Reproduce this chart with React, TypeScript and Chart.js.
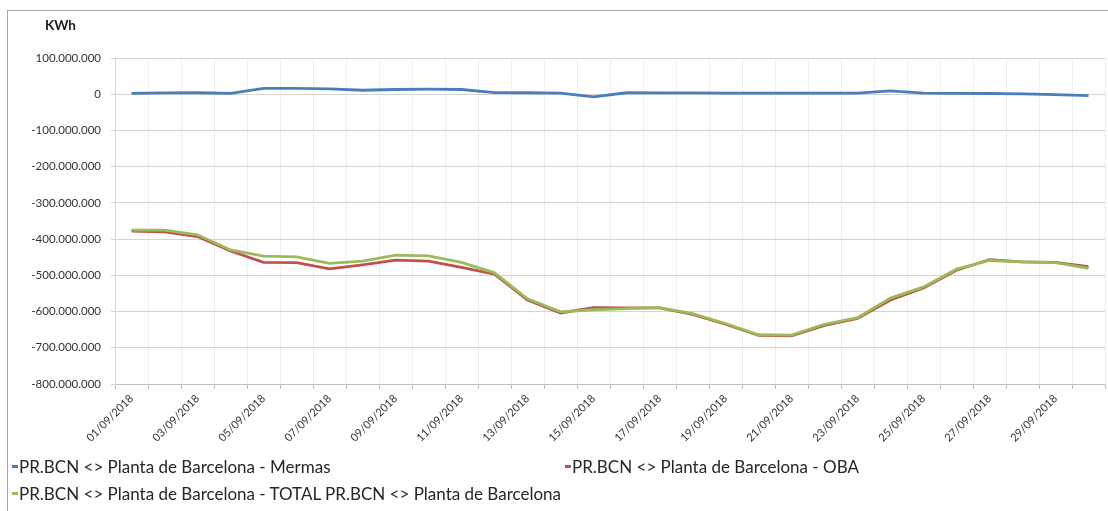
import React, { useEffect, useRef } from "react";
import { Chart, registerables } from "chart.js";

Chart.register(...registerables);

const categories = [
  "01/09/2018", "02/09/2018", "03/09/2018", "04/09/2018", "05/09/2018",
  "06/09/2018", "07/09/2018", "08/09/2018", "09/09/2018", "10/09/2018",
  "11/09/2018", "12/09/2018", "13/09/2018", "14/09/2018", "15/09/2018",
  "16/09/2018", "17/09/2018", "18/09/2018", "19/09/2018", "20/09/2018",
  "21/09/2018", "22/09/2018", "23/09/2018", "24/09/2018", "25/09/2018",
  "26/09/2018", "27/09/2018", "28/09/2018", "29/09/2018", "30/09/2018",
];

const seriesNames = [
  "PR.BCN <> Planta de Barcelona - Mermas",
  "PR.BCN <> Planta de Barcelona - OBA",
  "PR.BCN <> Planta de Barcelona - TOTAL PR.BCN <> Planta de Barcelona",
];

const seriesColors = ["#4a7ebb", "#c0504d", "#9bbb59"];

const mermas = [
  2500000, 3500000, 4000000, 2500000, 16000000, 16000000, 15000000, 11000000,
  13000000, 14000000, 13000000, 4500000, 4000000, 3000000, -7500000, 4000000,
  3500000, 3500000, 3000000, 3000000, 3000000, 3000000, 3000000, 9000000,
  3000000, 2500000, 2000000, 1000000, -1000000, -4000000,
];

const oba = [
  -378000000, -380000000, -393000000, -433000000, -464000000, -465000000,
  -482000000, -471000000, -458000000, -461000000, -478000000, -497000000,
  -568000000, -604000000, -589000000, -590000000, -590000000, -608000000,
  -635000000, -666000000, -667000000, -638000000, -619000000, -568000000,
  -535000000, -486000000, -457000000, -463000000, -464000000, -476000000,
];

const total = [
  -375000000, -375000000, -388000000, -430000000, -447000000, -449000000,
  -467000000, -461000000, -444000000, -446000000, -464000000, -493000000,
  -565000000, -601000000, -595000000, -592000000, -589000000, -606000000,
  -633000000, -664000000, -665000000, -635000000, -617000000, -563000000,
  -532000000, -483000000, -459000000, -463000000, -465000000, -481000000,
];

const yMin = -800000000;
const yMax = 100000000;
const yStep = 100000000;

function fmt(v: number): string {
  const s = String(Math.abs(Math.round(v))).replace(/\B(?=(\d{3})+(?!\d))/g, ".");
  return (v < 0 ? "-" : "") + s;
}

const FONT = "Lato, 'Open Sans', sans-serif";

export default function App() {
  const ref = useRef<HTMLCanvasElement | null>(null);

  useEffect(() => {
    if (!ref.current) return;
    const chart = new Chart(ref.current, {
      type: "line",
      data: {
        labels: categories,
        datasets: [
          { label: seriesNames[0], data: mermas, borderColor: seriesColors[0], backgroundColor: seriesColors[0], order: 2 },
          { label: seriesNames[1], data: oba, borderColor: seriesColors[1], backgroundColor: seriesColors[1], order: 1 },
          { label: seriesNames[2], data: total, borderColor: seriesColors[2], backgroundColor: seriesColors[2], order: 0 },
        ].map((d) => ({ ...d, borderWidth: 2.8, pointRadius: 0, tension: 0, fill: false })),
      },
      options: {
        animation: false,
        responsive: false,
        maintainAspectRatio: false,
        layout: { padding: { left: 0, top: 58, right: 3, bottom: 0 } },
        plugins: {
          legend: { display: false },
          tooltip: { enabled: false },
          title: { display: false },
        },
        scales: {
          x: {
            type: "category",
            offset: true,
            afterFit: (s: any) => {
              s.height = 127;
            },
            grid: {
              offset: true,
              color: "#eeeeee",
              lineWidth: 1,
              tickColor: "#bfbfbf",
              tickLength: 5,
              drawTicks: true,
            },
            border: { color: "#bfbfbf", width: 1 },
            ticks: {
              autoSkip: false,
              maxRotation: 45,
              minRotation: 45,
              padding: 3,
              color: "#333333",
              font: { family: FONT, size: 11 },
              callback: (_v: any, i: number) => (i % 2 === 0 ? categories[i] : ""),
            },
          },
          y: {
            min: yMin,
            max: yMax,
            afterFit: (s: any) => {
              s.width = 115;
            },
            grid: {
              color: "#d4d4d4",
              lineWidth: 1,
              tickColor: "#d4d4d4",
              tickLength: 4,
            },
            border: { color: "#d9d9d9", width: 1 },
            ticks: {
              stepSize: yStep,
              padding: 10,
              color: "#333333",
              font: { family: FONT, size: 11.5 },
              callback: (v: any) => fmt(Number(v)),
            },
          },
        },
      },
    });
    return () => chart.destroy();
  }, []);

  const legendItem = (i: number, left: number, top: number) => (
    <div
      key={i}
      style={{
        position: "absolute",
        left,
        top,
        height: 20,
        display: "flex",
        alignItems: "center",
        fontFamily: FONT,
        fontSize: 17,
        color: "#262626",
        whiteSpace: "nowrap",
      }}
    >
      <span
        style={{
          display: "inline-block",
          width: 6,
          height: 3,
          background: seriesColors[i],
          marginRight: 1,
        }}
      />
      <span>{seriesNames[i]}</span>
    </div>
  );

  return (
    <div
      style={{
        position: "fixed",
        left: 0,
        top: 0,
        width: 1108,
        height: 511,
        background: "#ffffff",
        overflow: "hidden",
      }}
    >
      <div
        style={{
          position: "absolute",
          left: 7,
          top: 10,
          width: 1200,
          height: 600,
          borderLeft: "1px solid #a6a6a6",
          borderTop: "1px solid #a6a6a6",
        }}
      />
      <canvas ref={ref} width={1108} height={511} style={{ position: "absolute", left: 0, top: 0 }} />
      <div
        style={{
          position: "absolute",
          left: 45,
          top: 17,
          fontFamily: FONT,
          fontWeight: 700,
          fontSize: 13.5,
          color: "#1a1a1a",
        }}
      >
        KWh
      </div>
      {legendItem(0, 12, 456)}
      {legendItem(1, 565, 456)}
      {legendItem(2, 12, 483)}
    </div>
  );
}
